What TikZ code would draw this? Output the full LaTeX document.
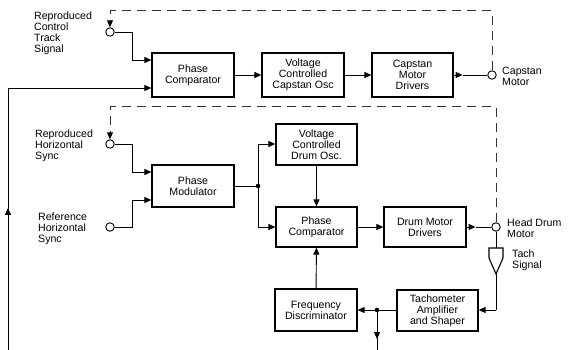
\documentclass[tikz,border=0pt]{standalone}
\usepackage{fontspec}
\setmainfont{Liberation Sans}
\usetikzlibrary{arrows.meta}
\begin{document}
\begin{tikzpicture}[x=1pt,y=-1pt,
  blk/.style={draw, line width=1.2pt, minimum height=42pt, minimum width=82pt, inner sep=1pt, align=center, font=\fontsize{10.6}{11}\selectfont},
  lbl/.style={align=left, inner sep=0pt, font=\fontsize{10.6}{11}\selectfont},
  term/.style={draw, circle, minimum size=8.5pt, inner sep=0pt, line width=0.9pt, fill=white},
  ln/.style={line width=0.95pt},
  arr/.style={ln, -{Triangle[length=7pt,width=6pt]}},
  dsh/.style={line width=1pt, dash pattern=on 9pt off 6pt, color=black!80},
  dot/.style={circle, fill, inner sep=0pt, minimum size=4.6pt}
]
\useasboundingbox (0,0) rectangle (568,350);

% blocks
\node[blk, minimum height=44pt] (pc1) at (193,75) {Phase\\Comparator};
\node[blk, minimum height=44pt] (vcc) at (303,75) {Voltage\\Controlled\\Capstan Osc};
\node[blk, minimum height=44pt, minimum width=81pt] (cmd) at (412.5,75) {Capstan\\Motor\\Drivers};
\node[blk] (pm) at (193,186) {Phase\\Modulator};
\node[blk, minimum width=81pt, minimum height=41pt] (vcd) at (316.5,144.5) {Voltage\\Controlled\\Drum Osc.};
\node[blk, minimum width=81pt, minimum height=40pt] (pc2) at (316.5,227) {Phase\\Comparator};
\node[blk, minimum height=40pt] (dmd) at (425,227) {Drum Motor\\Drivers};
\node[blk] (fd) at (316,310) {Frequency\\Discriminator};
\node[blk, minimum width=81pt, minimum height=41pt] (tas) at (437.5,310.5) {Tachometer\\Amplifier\\and Shaper};

% terminals
\node[term] (t1) at (110,32) {};
\node[term] (t2) at (492,75) {};
\node[term] (t3) at (110,144) {};
\node[term] (t4) at (110,227) {};
\node[term] (t5) at (496,227) {};

% labels
\node[lbl, anchor=north west] (l1) at (34,12) {Reproduced\\Control\\Track\\Signal};
\node[lbl, anchor=west] (l2) at (502,76) {Capstan\\Motor};
\node[lbl, anchor=north west] (l3) at (35,130) {Reproduced\\Horizontal\\Sync};
\node[lbl, anchor=north west] (l4) at (38,213) {Reference\\Horizontal\\Sync};
\node[lbl, anchor=west] (l5) at (507,228) {Head Drum\\Motor};
\node[lbl, anchor=west] (l6) at (512,260) {Tach\\Signal};

% coordinates
\coordinate (c1) at (492,11);
\coordinate (c2) at (110,11);
\coordinate (c3) at (496,107);
\coordinate (c4) at (110,107);
\coordinate (bl) at (8,350);
\coordinate (lc) at (8,88);
\coordinate (j1) at (258,186);
\coordinate (j2) at (377,310);
\coordinate (bd) at (377,350);
\coordinate (ttop) at (496,248);
\coordinate (tbot) at (496,274);

% dashed feedback lines
\draw[dsh] (t2.north) -- (c1) -- (c2) -- (110,22);
\draw[arr] (110,21) -- (t1.north);
\draw[dsh] (t5.north) -- (c3) -- (c4) -- (110,133);
\draw[arr] (110,132) -- (t3.north);

% capstan chain
\draw[ln] (t1.east) -- (132,32) -- (132,60);
\draw[arr] (132,60) -- (pc1.west|-0,60);
\draw[ln] (bl) -- (lc);
\draw[arr] (lc) -- (pc1.west|-lc);
\draw[arr] (8,225) -- (8,208);
\draw[arr] (pc1) -- (vcc);
\draw[arr] (vcc) -- (cmd);
\draw[arr] (cmd.east) -- ++(9,0) coordinate (o1);
\draw[ln] (o1) -- (t2.west);

% drum chain
\draw[ln] (t3.east) -- (132,144) -- (132,172);
\draw[arr] (132,172) -- (pm.west|-0,172);
\draw[ln] (t4.east) -- (132,227) -- (132,200);
\draw[arr] (132,200) -- (pm.west|-0,200);
\draw[ln] (pm.east|-j1) -- (j1);
\draw[ln] (258,144) -- (258,227);
\node[dot] (jd1) at (j1) {};
\draw[arr] (258,144) -- (vcd.west|-0,144);
\draw[arr] (258,227) -- (pc2.west);
\draw[arr] (vcd) -- (pc2);
\draw[arr] (pc2) -- (dmd);
\draw[arr] (dmd.east) -- ++(9,0) coordinate (o2);
\draw[ln] (o2) -- (t5.west);

% tach
\draw[ln] (t5.south) -- (ttop);
\draw[line width=1.1pt] (489,248) -- (503,248) -- (503,258) -- (tbot) -- (489,258) -- cycle;
\draw[ln] (tbot) -- (496,310);
\draw[arr] (496,310) -- (tas.east|-0,310);
\draw[arr] (tas.west|-j2) -- (fd.east|-j2);
\node[dot] (jd2) at (j2) {};
\draw[arr] (j2) -- (377,339);
\draw[ln] (377,338) -- (bd);
\draw[arr] (fd) -- (pc2);
\end{tikzpicture}
\end{document}
